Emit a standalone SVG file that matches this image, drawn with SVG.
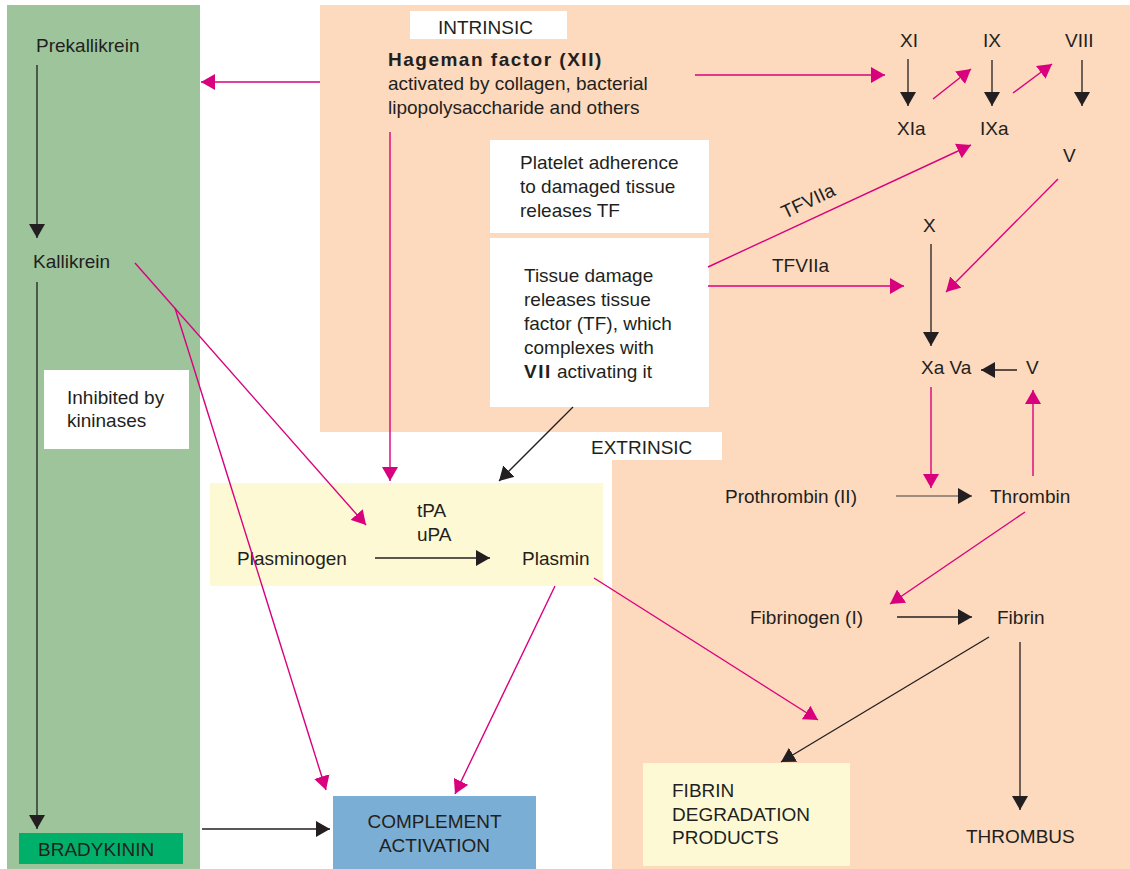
<svg xmlns="http://www.w3.org/2000/svg" width="1130" height="869" viewBox="0 0 1130 869">
<defs>
<style>
text{font-family:"Liberation Sans",Arial,sans-serif;font-size:19px;fill:#231f20}
.b{font-weight:bold;letter-spacing:1.5px}
.bl{stroke:#231f20;stroke-width:1.3;fill:none;marker-end:url(#ab)}
.pk{stroke:#d9007e;stroke-width:1.4;fill:none;marker-end:url(#ap)}
.wb{fill:#ffffff}
.yb{fill:#fef9d5}
</style>
<marker id="ab" markerUnits="userSpaceOnUse" markerWidth="16" markerHeight="16" refX="14" refY="8" orient="auto"><path d="M0,0 L14,8 L0,16 z" fill="#231f20"/></marker>
<marker id="ap" markerUnits="userSpaceOnUse" markerWidth="16" markerHeight="16" refX="14" refY="8" orient="auto"><path d="M0,0 L14,8 L0,16 z" fill="#d9007e"/></marker>
</defs>
<rect width="1130" height="869" fill="#ffffff"/>
<g id="panels">
<rect x="7" y="5" width="193" height="864" fill="#9dc49b"/>
<path d="M320,5 H1130 V869 H612 V432 H320 Z" fill="#fdd9bd"/>
</g>
<g id="intrinsic-label"><rect class="wb" x="410" y="11" width="157" height="28"/><text x="438" y="34">INTRINSIC</text></g>
<g id="extrinsic-label"><rect class="wb" x="561" y="432" width="161" height="28"/><text x="591" y="454">EXTRINSIC</text></g>
<g id="hageman">
<text class="b" x="388" y="66">Hageman factor (XII)</text>
<text x="388" y="90">activated by collagen, bacterial</text>
<text x="388" y="114">lipopolysaccharide and others</text>
</g>
<g id="platelet"><rect class="wb" x="490" y="140" width="219" height="93"/>
<text x="520" y="169">Platelet adherence</text><text x="520" y="193">to damaged tissue</text><text x="520" y="217">releases TF</text></g>
<g id="tissue"><rect class="wb" x="490" y="238" width="219" height="169"/>
<text x="524" y="282">Tissue damage</text><text x="524" y="306">releases tissue</text><text x="524" y="330">factor (TF), which</text><text x="524" y="354">complexes with</text><text x="524" y="378"><tspan class="b">VII</tspan> activating it</text></g>
<g id="inhibited"><rect class="wb" x="44" y="370" width="145" height="79"/><text x="67" y="404">Inhibited by</text><text x="67" y="427">kininases</text></g>
<g id="prekallikrein"><text x="36" y="52">Prekallikrein</text></g>
<g id="kallikrein"><text x="33" y="268">Kallikrein</text></g>
<g id="bradykinin"><rect x="19" y="833" width="164" height="31" fill="#00b06a"/><text x="38" y="856">BRADYKININ</text></g>
<g id="complement"><rect x="333" y="796" width="203" height="73" fill="#7baed5"/><text x="434.5" y="828" text-anchor="middle">COMPLEMENT</text><text x="434.5" y="852" text-anchor="middle">ACTIVATION</text></g>
<g id="fibrinolysis"><rect class="yb" x="210" y="483" width="393" height="103"/>
<text x="417" y="517">tPA</text><text x="417" y="541">uPA</text></g>
<g id="plasminogen"><text x="237" y="565">Plasminogen</text></g>
<g id="plasmin"><text x="522" y="565">Plasmin</text></g>
<g id="XI"><text x="900" y="47">XI</text></g>
<g id="IX"><text x="983" y="47">IX</text></g>
<g id="VIII"><text x="1065" y="47">VIII</text></g>
<g id="XIa"><text x="897" y="135">XIa</text></g>
<g id="IXa"><text x="980" y="135">IXa</text></g>
<g id="V1"><text x="1063" y="162">V</text></g>
<g id="X"><text x="923" y="232">X</text></g>
<g id="XaVa"><text x="921" y="374">Xa Va</text></g>
<g id="V2"><text x="1026" y="374">V</text></g>
<g id="prothrombin"><text x="725" y="503">Prothrombin (II)</text></g>
<g id="thrombin"><text x="990" y="503">Thrombin</text></g>
<g id="fibrinogen"><text x="750" y="624">Fibrinogen (I)</text></g>
<g id="fibrin"><text x="997" y="624">Fibrin</text></g>
<g id="fdp"><rect class="yb" x="643" y="763" width="207" height="103"/><text x="672" y="797">FIBRIN</text><text x="672" y="821">DEGRADATION</text><text x="672" y="844">PRODUCTS</text></g>
<g id="thrombus"><text x="966" y="843">THROMBUS</text></g>
<g id="connectors">
<line class="bl" x1="37" y1="65" x2="37" y2="238"/>
<line class="bl" x1="37" y1="282" x2="37" y2="829"/>
<line class="bl" x1="202" y1="829" x2="330" y2="829"/>
<line class="bl" x1="908" y1="59" x2="908" y2="106"/>
<line class="bl" x1="992" y1="60" x2="992" y2="106"/>
<line class="bl" x1="1082" y1="60" x2="1082" y2="106"/>
<line class="bl" x1="931" y1="244" x2="931" y2="346"/>
<line class="bl" x1="1017" y1="370" x2="981" y2="370"/>
<line class="bl" x1="896" y1="496" x2="972" y2="496" style="stroke:#7d716c"/>
<line class="bl" x1="897" y1="617" x2="972" y2="617"/>
<line class="bl" x1="989" y1="637" x2="781" y2="762"/>
<line class="bl" x1="1020" y1="642" x2="1020" y2="810"/>
<line class="bl" x1="573" y1="407" x2="499" y2="481"/>
<line class="bl" x1="375" y1="558" x2="490" y2="558"/>
<line class="pk" x1="320" y1="82" x2="201" y2="82"/>
<line class="pk" x1="695" y1="75" x2="885" y2="75"/>
<line class="pk" x1="390" y1="132" x2="390" y2="481"/>
<line class="pk" x1="933" y1="99" x2="971" y2="69"/>
<line class="pk" x1="1013" y1="93" x2="1052" y2="64"/>
<line class="pk" x1="708" y1="267" x2="971" y2="145"/>
<line class="pk" x1="708" y1="286" x2="904" y2="286"/>
<line class="pk" x1="1058" y1="179" x2="946" y2="292"/>
<line class="pk" x1="931" y1="387" x2="931" y2="488"/>
<line class="pk" x1="1033" y1="476" x2="1033" y2="390"/>
<line class="pk" x1="1025" y1="512" x2="890" y2="604"/>
<line class="pk" x1="135" y1="263" x2="366" y2="525"/>
<line class="pk" x1="175" y1="308" x2="326" y2="790"/>
<line class="pk" x1="555" y1="586" x2="455" y2="794"/>
<line class="pk" x1="594" y1="578" x2="818" y2="720"/>
<text x="785" y="219" transform="rotate(-25 785 219)">TFVIIa</text>
<text x="772" y="272">TFVIIa</text>
</g>
</svg>
